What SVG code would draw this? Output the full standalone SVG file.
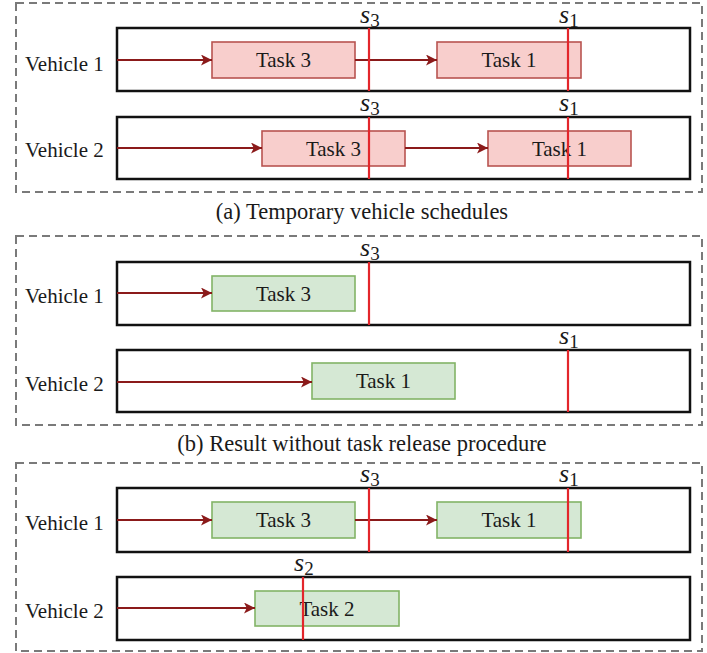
<svg xmlns="http://www.w3.org/2000/svg" width="707" height="653" viewBox="0 0 707 653">
  <style>
    .frame { fill: none; stroke: #7a7a7a; stroke-width: 2; stroke-dasharray: 8 5; }
    .lane { fill: #ffffff; stroke: #111111; stroke-width: 2.5; }
    .red-task { fill: #f8cecc; stroke: #b85450; stroke-width: 1.6; }
    .green-task { fill: #d5e8d4; stroke: #82b366; stroke-width: 1.6; }
    text { font-family: "Liberation Serif", "Times New Roman", serif; fill: #1a1a1a; }
    .label { font-size: 21px; }
    .task-text { text-anchor: middle; }
    .caption { font-size: 22.5px; text-anchor: middle; }
    .conn { fill: none; stroke: #8b1a1a; stroke-width: 2; marker-end: url(#arrow); }
    .deadline { stroke: #e3262b; stroke-width: 2.2; }
    .sym { font-style: italic; font-size: 26px; }
    .sub { font-style: normal; font-size: 19px; }
  </style>
  <defs>
    <marker id="arrow" viewBox="0 0 10 10" refX="10" refY="5" markerWidth="5.5" markerHeight="5.5" orient="auto" markerUnits="strokeWidth">
      <path d="M0,0 L10,5 L0,10 L2.5,5 Z" fill="#8b1a1a"/>
    </marker>
  </defs>

  <rect width="707" height="653" fill="#ffffff"/>

  <!-- dashed panel frames -->
  <g id="frames">
    <rect class="frame" x="16" y="3" width="686" height="189"/>
    <rect class="frame" x="16" y="236" width="686" height="189"/>
    <rect class="frame" x="16" y="463" width="686" height="188"/>
  </g>

  <!-- panel (a): temporary schedules -->
  <g id="a-lane1">
    <rect class="lane" x="117" y="28" width="573" height="63"/>
    <text class="label" x="25" y="71">Vehicle 1</text>
  </g>
  <g id="a-lane2">
    <rect class="lane" x="117" y="117" width="573" height="62"/>
    <text class="label" x="25" y="157">Vehicle 2</text>
  </g>
  <g id="a-v1-task3">
    <rect class="red-task" x="212" y="42" width="143" height="36"/>
    <text class="label task-text" x="283.5" y="67">Task 3</text>
  </g>
  <g id="a-v1-task1">
    <rect class="red-task" x="437" y="42" width="144" height="36"/>
    <text class="label task-text" x="509" y="67">Task 1</text>
  </g>
  <g id="a-v2-task3">
    <rect class="red-task" x="262" y="131" width="143" height="35"/>
    <text class="label task-text" x="333.5" y="156">Task 3</text>
  </g>
  <g id="a-v2-task1">
    <rect class="red-task" x="488" y="131" width="143" height="35"/>
    <text class="label task-text" x="559.5" y="156">Task 1</text>
  </g>
  <text class="caption" x="362" y="219">(a) Temporary vehicle schedules</text>

  <!-- panel (b): result without task release -->
  <g id="b-lane1">
    <rect class="lane" x="117" y="262" width="573" height="63"/>
    <text class="label" x="25" y="303">Vehicle 1</text>
  </g>
  <g id="b-lane2">
    <rect class="lane" x="117" y="350" width="573" height="62"/>
    <text class="label" x="25" y="391">Vehicle 2</text>
  </g>
  <g id="b-v1-task3">
    <rect class="green-task" x="212" y="276" width="143" height="35"/>
    <text class="label task-text" x="283.5" y="301">Task 3</text>
  </g>
  <g id="b-v2-task1">
    <rect class="green-task" x="312" y="363" width="143" height="36"/>
    <text class="label task-text" x="383.5" y="388">Task 1</text>
  </g>
  <text class="caption" x="362" y="451">(b) Result without task release procedure</text>

  <!-- panel (c): result with task release -->
  <g id="c-lane1">
    <rect class="lane" x="117" y="488" width="573" height="64"/>
    <text class="label" x="25" y="530">Vehicle 1</text>
  </g>
  <g id="c-lane2">
    <rect class="lane" x="117" y="577" width="573" height="63"/>
    <text class="label" x="25" y="618">Vehicle 2</text>
  </g>
  <g id="c-v1-task3">
    <rect class="green-task" x="212" y="502" width="143" height="36"/>
    <text class="label task-text" x="283.5" y="527">Task 3</text>
  </g>
  <g id="c-v1-task1">
    <rect class="green-task" x="437" y="502" width="144" height="36"/>
    <text class="label task-text" x="509" y="527">Task 1</text>
  </g>
  <g id="c-v2-task2">
    <rect class="green-task" x="255" y="591" width="144" height="35"/>
    <text class="label task-text" x="327" y="616">Task 2</text>
  </g>

  <!-- connectors -->
  <g id="connectors">
    <line class="conn" x1="117" y1="60" x2="212" y2="60"/>
    <line class="conn" x1="355" y1="60" x2="437" y2="60"/>
    <line class="conn" x1="117" y1="148" x2="262" y2="148"/>
    <line class="conn" x1="405" y1="148" x2="488" y2="148"/>
    <line class="conn" x1="117" y1="293" x2="212" y2="293"/>
    <line class="conn" x1="117" y1="382" x2="312" y2="382"/>
    <line class="conn" x1="117" y1="520" x2="212" y2="520"/>
    <line class="conn" x1="355" y1="520" x2="437" y2="520"/>
    <line class="conn" x1="117" y1="608" x2="255" y2="608"/>
  </g>

  <!-- start-time markers -->
  <g id="markers">
    <line class="deadline" x1="369" y1="28" x2="369" y2="91"/>
    <line class="deadline" x1="568" y1="28" x2="568" y2="91"/>
    <line class="deadline" x1="369" y1="117" x2="369" y2="179"/>
    <line class="deadline" x1="568" y1="117" x2="568" y2="179"/>
    <line class="deadline" x1="369" y1="262" x2="369" y2="325"/>
    <line class="deadline" x1="568" y1="350" x2="568" y2="412"/>
    <line class="deadline" x1="369" y1="488" x2="369" y2="552"/>
    <line class="deadline" x1="568" y1="488" x2="568" y2="552"/>
    <line class="deadline" x1="303" y1="577" x2="303" y2="640"/>

    <text class="sym" x="360" y="23">s<tspan class="sub" dy="4">3</tspan></text>
    <text class="sym" x="559" y="23">s<tspan class="sub" dy="4">1</tspan></text>
    <text class="sym" x="360" y="111">s<tspan class="sub" dy="4">3</tspan></text>
    <text class="sym" x="559" y="111">s<tspan class="sub" dy="4">1</tspan></text>
    <text class="sym" x="360" y="256">s<tspan class="sub" dy="4">3</tspan></text>
    <text class="sym" x="559" y="344">s<tspan class="sub" dy="4">1</tspan></text>
    <text class="sym" x="360" y="482">s<tspan class="sub" dy="4">3</tspan></text>
    <text class="sym" x="559" y="482">s<tspan class="sub" dy="4">1</tspan></text>
    <text class="sym" x="294" y="571">s<tspan class="sub" dy="4">2</tspan></text>
  </g>
</svg>
